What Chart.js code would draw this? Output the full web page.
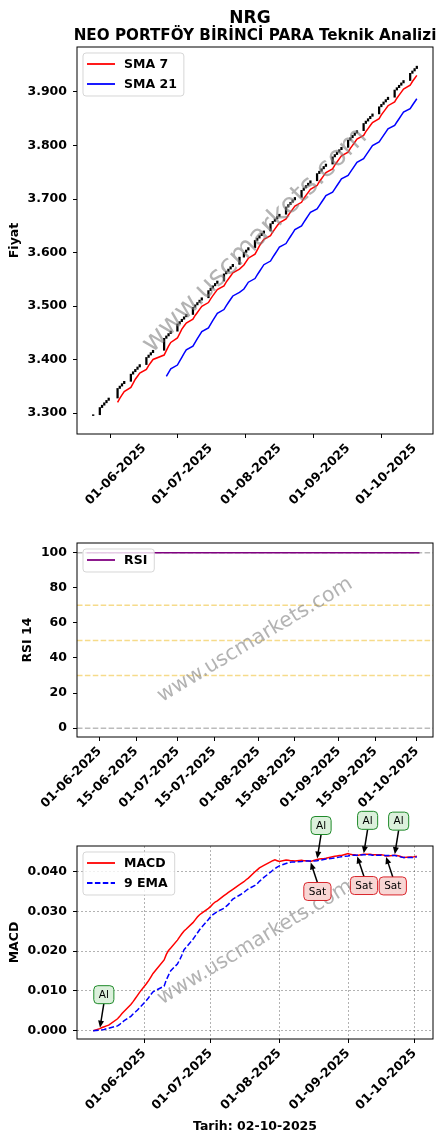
<!DOCTYPE html>
<html>
<head>
<meta charset="utf-8">
<script src="https://cdn.jsdelivr.net/npm/chart.js@4.4.1/dist/chart.umd.min.js"></script>
<style>
  html, body { margin: 0; padding: 0; background: #fff; }
  #page { position: relative; width: 446px; height: 1142px; overflow: hidden; background: #fff; }
  canvas { position: absolute; left: 0; }
</style>
</head>
<body>
<div id="page">
  <canvas id="priceChart" width="446" height="510" style="top:0px"></canvas>
  <canvas id="rsiChart" width="446" height="300" style="top:520px"></canvas>
  <canvas id="macdChart" width="446" height="352" style="top:790px"></canvas>
</div>
<script>
// NRG - NEO PORTFÖY BİRİNCİ PARA, işlem günleri
const symbol = 'NRG';
const fundName = 'NEO PORTFÖY BİRİNCİ PARA';
const reportDate = '02-10-2025';

const dates = [
  '2025-05-09','2025-05-12','2025-05-13','2025-05-14','2025-05-15','2025-05-16',
  '2025-05-20','2025-05-21','2025-05-22','2025-05-23',
  '2025-05-26','2025-05-27','2025-05-28','2025-05-29','2025-05-30',
  '2025-06-02','2025-06-03','2025-06-04','2025-06-05',
  '2025-06-10','2025-06-11','2025-06-12','2025-06-13',
  '2025-06-16','2025-06-17','2025-06-18','2025-06-19','2025-06-20',
  '2025-06-23','2025-06-24','2025-06-25','2025-06-26','2025-06-27',
  '2025-06-30','2025-07-01','2025-07-02','2025-07-03','2025-07-04',
  '2025-07-07','2025-07-08','2025-07-09','2025-07-10','2025-07-11',
  '2025-07-14','2025-07-16','2025-07-17','2025-07-18',
  '2025-07-21','2025-07-22','2025-07-23','2025-07-24','2025-07-25',
  '2025-07-28','2025-07-29','2025-07-30','2025-07-31','2025-08-01',
  '2025-08-04','2025-08-05','2025-08-06','2025-08-07','2025-08-08',
  '2025-08-11','2025-08-12','2025-08-13','2025-08-14','2025-08-15',
  '2025-08-18','2025-08-19','2025-08-20','2025-08-21','2025-08-22',
  '2025-08-25','2025-08-26','2025-08-27','2025-08-28','2025-08-29',
  '2025-09-01','2025-09-02','2025-09-03','2025-09-04','2025-09-05',
  '2025-09-08','2025-09-09','2025-09-10','2025-09-11','2025-09-12',
  '2025-09-15','2025-09-16','2025-09-17','2025-09-18','2025-09-19',
  '2025-09-22','2025-09-23','2025-09-24','2025-09-25','2025-09-26',
  '2025-09-29','2025-09-30','2025-10-01','2025-10-02'
];

// kapanış fiyatları (açılış = önceki kapanış)
const firstOpen = 3.2955;
const closes = [
  3.2970, 3.3104, 3.3148, 3.3193, 3.3238, 3.3282,
  3.3461, 3.3505, 3.3550, 3.3594,
  3.3728, 3.3773, 3.3817, 3.3862, 3.3907,
  3.4040, 3.4085, 3.4130, 3.4174,
  3.4397, 3.4442, 3.4486, 3.4531,
  3.4665, 3.4709, 3.4754, 3.4799, 3.4843,
  3.4977, 3.5022, 3.5066, 3.5111, 3.5155,
  3.5289, 3.5334, 3.5378, 3.5423, 3.5468,
  3.5601, 3.5646, 3.5691, 3.5735, 3.5780,
  3.5914, 3.6003, 3.6047, 3.6092,
  3.6226, 3.6270, 3.6315, 3.6360, 3.6404,
  3.6538, 3.6583, 3.6627, 3.6672, 3.6716,
  3.6850, 3.6895, 3.6939, 3.6984, 3.7029,
  3.7162, 3.7207, 3.7252, 3.7296, 3.7341,
  3.7475, 3.7519, 3.7564, 3.7608, 3.7653,
  3.7787, 3.7831, 3.7876, 3.7921, 3.7965,
  3.8099, 3.8144, 3.8188, 3.8233, 3.8277,
  3.8411, 3.8456, 3.8500, 3.8545, 3.8590,
  3.8723, 3.8768, 3.8813, 3.8857, 3.8902,
  3.9036, 3.9080, 3.9125, 3.9169, 3.9214,
  3.9348, 3.9392, 3.9437, 3.9482
];

const sma7 = [
  null, null, null, null, null, null,
  3.3199, 3.3276, 3.3340, 3.3403, 3.3480, 3.3556, 3.3633, 3.3690, 3.3747,
  3.3817, 3.3888, 3.3945, 3.4002, 3.4085, 3.4168, 3.4251, 3.4321,
  3.4404, 3.4486, 3.4569, 3.4627, 3.4684, 3.4754, 3.4824, 3.4881, 3.4939, 3.4996,
  3.5066, 3.5136, 3.5194, 3.5251, 3.5308, 3.5378, 3.5449, 3.5506, 3.5563, 3.5621,
  3.5691, 3.5767, 3.5831, 3.5894, 3.5971, 3.6047, 3.6124, 3.6188, 3.6245,
  3.6315, 3.6385, 3.6442, 3.6500, 3.6557, 3.6627, 3.6697, 3.6755, 3.6812, 3.6869,
  3.6939, 3.7010, 3.7067, 3.7124, 3.7182, 3.7252, 3.7322, 3.7379, 3.7436, 3.7494,
  3.7564, 3.7634, 3.7691, 3.7749, 3.7806, 3.7876, 3.7946, 3.8003, 3.8061, 3.8118,
  3.8188, 3.8258, 3.8316, 3.8373, 3.8430, 3.8500, 3.8571, 3.8628, 3.8685, 3.8743,
  3.8813, 3.8883, 3.8940, 3.8997, 3.9055, 3.9125, 3.9195, 3.9252, 3.9310
];

const sma21 = [
  null, null, null, null, null, null, null, null, null, null,
  null, null, null, null, null, null, null, null, null, null,
  3.3686, 3.3758, 3.3826, 3.3898, 3.3970, 3.4043, 3.4115, 3.4181, 3.4251, 3.4321,
  3.4391, 3.4457, 3.4523, 3.4593, 3.4663, 3.4733, 3.4799, 3.4864, 3.4935, 3.5005,
  3.5066, 3.5128, 3.5189, 3.5255, 3.5319, 3.5383, 3.5446, 3.5514, 3.5582, 3.5646,
  3.5710, 3.5773, 3.5841, 3.5909, 3.5973, 3.6037, 3.6100, 3.6168, 3.6236, 3.6300,
  3.6364, 3.6428, 3.6496, 3.6563, 3.6627, 3.6689, 3.6750, 3.6816, 3.6878, 3.6939,
  3.7001, 3.7063, 3.7128, 3.7190, 3.7252, 3.7313, 3.7375, 3.7441, 3.7502, 3.7564,
  3.7625, 3.7687, 3.7753, 3.7814, 3.7876, 3.7938, 3.7999, 3.8065, 3.8127, 3.8188,
  3.8250, 3.8311, 3.8377, 3.8439, 3.8500, 3.8562, 3.8624, 3.8689, 3.8751, 3.8813,
  3.8874
];

const rsi14 = [
  null, null, null, null, null, null, null, null, null, null, null,
  100, 100, 100, 100, 100, 100, 100, 100, 100, 100,
  100, 100, 100, 100, 100, 100, 100, 100, 100, 100,
  100, 100, 100, 100, 100, 100, 100, 100, 100, 100,
  100, 100, 100, 100, 100, 100, 100, 100, 100, 100,
  100, 100, 100, 100, 100, 100, 100, 100, 100, 100,
  100, 100, 100, 100, 100, 100, 100, 100, 100, 100,
  100, 100, 100, 100, 100, 100, 100, 100, 100, 100,
  100, 100, 100, 100, 100, 100, 100, 100, 100, 100,
  100, 100, 100, 100, 100, 100, 100, 100, 100, 100
];

const macd = [
  0.0000, 0.0005, 0.0008, 0.0010, 0.0012, 0.0014,
  0.0030, 0.0036, 0.0043, 0.0049,
  0.0066, 0.0073, 0.0081, 0.0089, 0.0097,
  0.0118, 0.0126, 0.0135, 0.0144,
  0.0178, 0.0192, 0.0202, 0.0208,
  0.0228, 0.0236, 0.0244, 0.0251, 0.0256,
  0.0272, 0.0279, 0.0286, 0.0292, 0.0296,
  0.0308, 0.0313, 0.0319, 0.0324, 0.0327,
  0.0340, 0.0344, 0.0348, 0.0352, 0.0356,
  0.0368, 0.0375, 0.0380, 0.0384,
  0.0400, 0.0405, 0.0410, 0.0413, 0.0416,
  0.0425, 0.0428, 0.0430, 0.0428, 0.0426,
  0.0430, 0.0429, 0.0428, 0.0428, 0.0427,
  0.0429, 0.0428, 0.0428, 0.0428, 0.0426,
  0.0431, 0.0432, 0.0433, 0.0433, 0.0434,
  0.0438, 0.0439, 0.0440, 0.0441, 0.0441,
  0.0446, 0.0444, 0.0443, 0.0443, 0.0441,
  0.0444, 0.0444, 0.0444, 0.0444, 0.0443,
  0.0443, 0.0443, 0.0442, 0.0440, 0.0440,
  0.0442, 0.0441, 0.0440, 0.0438, 0.0436,
  0.0437, 0.0437, 0.0438, 0.0439
];

const macdSignal = [
  0.0000, 0.0001, 0.0002, 0.0003, 0.0005, 0.0006,
  0.0012, 0.0016, 0.0021, 0.0025,
  0.0036, 0.0042, 0.0047, 0.0052, 0.0058,
  0.0076, 0.0083, 0.0091, 0.0098,
  0.0112, 0.0128, 0.0140, 0.0151,
  0.0168, 0.0178, 0.0190, 0.0204, 0.0210,
  0.0230, 0.0238, 0.0246, 0.0254, 0.0261,
  0.0280, 0.0287, 0.0292, 0.0296, 0.0300,
  0.0308, 0.0313, 0.0318, 0.0325, 0.0331,
  0.0341, 0.0348, 0.0353, 0.0357,
  0.0366, 0.0370, 0.0376, 0.0381, 0.0386,
  0.0399, 0.0404, 0.0408, 0.0412, 0.0415,
  0.0421, 0.0423, 0.0424, 0.0425, 0.0425,
  0.0426, 0.0427, 0.0427, 0.0427, 0.0427,
  0.0428, 0.0429, 0.0430, 0.0431, 0.0432,
  0.0434, 0.0435, 0.0436, 0.0437, 0.0438,
  0.0440, 0.0441, 0.0442, 0.0442, 0.0442,
  0.0443, 0.0443, 0.0443, 0.0443, 0.0442,
  0.0442, 0.0442, 0.0441, 0.0441, 0.0441,
  0.0441, 0.0440, 0.0439, 0.0437, 0.0436,
  0.0436, 0.0436, 0.0437, 0.0437
];

// al / sat sinyalleri (MACD kesişimleri)
const signalDates = ['2025-05-12', '2025-08-15', '2025-08-18', '2025-09-05', '2025-09-08', '2025-09-18', '2025-09-22'];
const signalTypes = ['Al', 'Sat', 'Al', 'Sat', 'Al', 'Sat', 'Al'];

const priceTicks = [3.3, 3.4, 3.5, 3.6, 3.7, 3.8, 3.9];
const rsiTicks = [0, 20, 40, 60, 80, 100];
const rsiLevels = [0, 30, 50, 70, 100];
const macdTicks = [0, 0.01, 0.02, 0.03, 0.04];
const monthLabels = ['01-06-2025', '01-07-2025', '01-08-2025', '01-09-2025', '01-10-2025'];
const halfMonthLabels = ['01-06-2025', '15-06-2025', '01-07-2025', '15-07-2025', '01-08-2025',
  '15-08-2025', '01-09-2025', '15-09-2025', '01-10-2025'];

// tarih -> gün numarası (doğrusal x ekseni için)
const t0 = Date.parse(dates[0]);
const dayOf = s => (Date.parse(s) - t0) / 864e5;
const dayOfLabel = s => { const [d, m, y] = s.split('-'); return dayOf(y + '-' + m + '-' + d); };
const series = vals => vals.map((v, i) => ({ x: dayOf(dates[i]), y: v })).filter(p => p.y !== null);
const candles = closes.map((c, i) => ({ x: dayOf(dates[i]), y: [i ? closes[i - 1] : firstOpen, c] }));

const FONT = "'DejaVu Sans', 'Liberation Sans', sans-serif";
Chart.defaults.font.family = FONT;
Chart.defaults.font.size = 12.5;
Chart.defaults.font.weight = 'bold';
Chart.defaults.color = '#000';

function axes(o) {
  return {
    x: {
      type: 'linear', min: o.xMin, max: o.xMax, offset: false,
      afterFit: s => { s.height = o.xHeight; },
      afterBuildTicks: s => { s.ticks = o.xLabels.map(l => ({ value: dayOfLabel(l) })); },
      ticks: { autoSkip: false, minRotation: 45, maxRotation: 45, padding: 3,
        callback: (v, i) => o.xLabels[i] },
      grid: { drawOnChartArea: !!o.grid, color: 'rgba(0,0,0,0.38)', lineWidth: 0.8,
        tickColor: '#000', tickLength: 4, tickWidth: 1 },
      border: { display: false, dash: [2, 2] },
      title: o.xTitle ? { display: true, text: o.xTitle, padding: { top: 0, bottom: 7.5 } } : { display: false }
    },
    y: {
      min: o.yMin, max: o.yMax,
      afterFit: s => { s.width = 77; },
      afterBuildTicks: s => { s.ticks = o.yTicks.map(v => ({ value: v })); },
      ticks: { autoSkip: false, padding: 6, callback: v => o.yFmt(v) },
      grid: { drawOnChartArea: !!o.grid, color: 'rgba(0,0,0,0.38)', lineWidth: 0.8,
        tickColor: '#000', tickLength: 4, tickWidth: 1 },
      border: { display: false, dash: [2, 2] },
      title: { display: true, text: o.yTitle, padding: { top: o.yTitlePad, bottom: 0 } }
    }
  };
}

function baseOptions(padTop, scales) {
  return {
    responsive: false, animation: false, events: [],
    layout: { padding: { top: padTop, right: 13, left: 0, bottom: 0 } },
    plugins: { legend: { display: false }, tooltip: { enabled: false } },
    scales: scales
  };
}

// çerçeve (dört kenar)
const framePlugin = {
  id: 'frame',
  afterDraw(chart) {
    const { ctx, chartArea: a } = chart;
    ctx.save();
    ctx.strokeStyle = '#000';
    ctx.lineWidth = 1;
    ctx.strokeRect(a.left, a.top, a.right - a.left, a.bottom - a.top);
    ctx.restore();
  }
};

function watermark(size, angle) {
  return {
    id: 'watermark',
    afterDatasetsDraw(chart) {
      const { ctx, chartArea: a } = chart;
      ctx.save();
      ctx.translate((a.left + a.right) / 2, (a.top + a.bottom) / 2);
      ctx.rotate(-angle * Math.PI / 180);
      ctx.font = 'normal ' + size + 'px ' + FONT;
      ctx.fillStyle = 'rgba(128,128,128,0.6)';
      ctx.textAlign = 'center';
      ctx.textBaseline = 'middle';
      ctx.fillText('www.uscmarkets.com', 0, 0);
      ctx.restore();
    }
  };
}

// matplotlib tarzı lejant, grafik alanının sol üst köşesinde
const legendPlugin = {
  id: 'boxLegend',
  afterDraw(chart) {
    const { ctx, chartArea: a } = chart;
    const items = chart.data.datasets.filter(d => d.label);
    ctx.save();
    ctx.font = 'bold 12.5px ' + FONT;
    const w = 41 + Math.max(...items.map(d => ctx.measureText(d.label).width)) + 7;
    const h = 23 + (items.length - 1) * 20;
    const x = a.left + 6, y = a.top + 6;
    ctx.beginPath();
    ctx.roundRect(x, y, w, h, 3);
    ctx.fillStyle = 'rgba(255,255,255,0.8)';
    ctx.fill();
    ctx.strokeStyle = 'rgba(204,204,204,0.8)';
    ctx.lineWidth = 1;
    ctx.stroke();
    items.forEach((d, k) => {
      const yy = y + 11 + 20 * k;
      ctx.beginPath();
      ctx.setLineDash(d.borderDash || []);
      ctx.strokeStyle = d.borderColor;
      ctx.lineWidth = 1.8;
      ctx.moveTo(x + 4, yy);
      ctx.lineTo(x + 32, yy);
      ctx.stroke();
      ctx.setLineDash([]);
      ctx.fillStyle = '#000';
      ctx.textBaseline = 'middle';
      ctx.textAlign = 'left';
      ctx.fillText(d.label, x + 41, yy + 1);
    });
    ctx.restore();
  }
};

const titlePlugin = {
  id: 'titles',
  afterDraw(chart) {
    const { ctx } = chart;
    ctx.save();
    ctx.fillStyle = '#000';
    ctx.textAlign = 'center';
    ctx.textBaseline = 'alphabetic';
    ctx.font = 'bold 17px ' + FONT;
    ctx.fillText(symbol, 250, 22.5);
    ctx.font = 'bold 15.2px ' + FONT;
    ctx.fillText(fundName + ' Teknik Analizi', 255, 39.5);
    ctx.restore();
  }
};

const levelsPlugin = {
  id: 'levels',
  beforeDatasetsDraw(chart) {
    const { ctx, chartArea: a, scales } = chart;
    ctx.save();
    ctx.lineWidth = 1.5;
    ctx.setLineDash([5.5, 2.4]);
    rsiLevels.forEach(v => {
      const y = scales.y.getPixelForValue(v);
      ctx.strokeStyle = (v === 0 || v === 100) ? 'rgba(170,170,170,0.8)' : 'rgba(240,195,60,0.6)';
      ctx.beginPath();
      ctx.moveTo(a.left, y);
      ctx.lineTo(a.right, y);
      ctx.stroke();
    });
    ctx.restore();
  }
};

const signalPlugin = {
  id: 'signals',
  afterDatasetsDraw(chart) {
    const { ctx, scales } = chart;
    ctx.save();
    ctx.font = 'normal 10.5px ' + FONT;
    signalDates.forEach((d, k) => {
      const i = dates.indexOf(d);
      const buy = signalTypes[k] === 'Al';
      const tx = scales.x.getPixelForValue(dayOf(d));
      const ty = scales.y.getPixelForValue(macd[i]);
      const bx = tx + (buy ? 4 : 7);
      const by = ty + (buy ? -34 : 30);
      const bw = ctx.measureText(signalTypes[k]).width + 10, bh = 18;
      // ok
      const sx = bx, sy = buy ? by + bh / 2 : by - bh / 2;
      const ang = Math.atan2(ty - sy, tx - sx);
      const ex = tx - Math.cos(ang) * 1, ey = ty - Math.sin(ang) * 1;
      ctx.strokeStyle = '#000';
      ctx.fillStyle = '#000';
      ctx.lineWidth = 1.5;
      ctx.beginPath();
      ctx.moveTo(sx, sy);
      ctx.lineTo(ex - Math.cos(ang) * 5, ey - Math.sin(ang) * 5);
      ctx.stroke();
      ctx.beginPath();
      ctx.moveTo(ex, ey);
      ctx.lineTo(ex - Math.cos(ang) * 7 + Math.sin(ang) * 3, ey - Math.sin(ang) * 7 - Math.cos(ang) * 3);
      ctx.lineTo(ex - Math.cos(ang) * 7 - Math.sin(ang) * 3, ey - Math.sin(ang) * 7 + Math.cos(ang) * 3);
      ctx.closePath();
      ctx.fill();
      // kutu
      ctx.beginPath();
      ctx.roundRect(bx - bw / 2, by - bh / 2, bw, bh, 4);
      ctx.fillStyle = buy ? '#dcf0dc' : '#f8d6d4';
      ctx.fill();
      ctx.lineWidth = 1;
      ctx.strokeStyle = buy ? '#1f8a2a' : '#d9262c';
      ctx.stroke();
      ctx.fillStyle = '#000';
      ctx.textAlign = 'center';
      ctx.textBaseline = 'middle';
      ctx.fillText(signalTypes[k], bx, by + 0.5);
    });
    ctx.restore();
  }
};

// 1) Fiyat + SMA
new Chart(document.getElementById('priceChart'), {
  type: 'bar',
  data: {
    datasets: [
      { type: 'bar', data: candles, backgroundColor: '#000', borderWidth: 0, barThickness: 1.6, order: 2 },
      { type: 'line', label: 'SMA 7', data: series(sma7), borderColor: 'red', borderWidth: 1.5, pointRadius: 0, order: 1 },
      { type: 'line', label: 'SMA 21', data: series(sma21), borderColor: 'blue', borderWidth: 1.5, pointRadius: 0, order: 0 }
    ]
  },
  options: baseOptions(47, axes({
    xMin: -7.3, xMax: 153.3, xHeight: 76, xLabels: monthLabels,
    yMin: 3.261, yMax: 3.984, yTicks: priceTicks, yFmt: v => v.toFixed(3),
    yTitle: 'Fiyat', yTitlePad: 7.5
  })),
  plugins: [framePlugin, watermark(28, 45), legendPlugin, titlePlugin]
});

// 2) RSI
new Chart(document.getElementById('rsiChart'), {
  type: 'line',
  data: {
    datasets: [
      { label: 'RSI', data: series(rsi14), borderColor: '#800080', borderWidth: 1.5, pointRadius: 0 }
    ]
  },
  options: baseOptions(23, axes({
    xMin: 14.3, xMax: 151.2, xHeight: 83, xLabels: halfMonthLabels,
    yMin: -5, yMax: 105.5, yTicks: rsiTicks, yFmt: v => String(v),
    yTitle: 'RSI 14', yTitlePad: 20.5
  })),
  plugins: [levelsPlugin, framePlugin, watermark(20.5, 31), legendPlugin]
});

// 3) MACD
new Chart(document.getElementById('macdChart'), {
  type: 'line',
  data: {
    datasets: [
      { label: 'MACD', data: series(macd), borderColor: 'red', borderWidth: 1.5, pointRadius: 0, order: 1 },
      { label: '9 EMA', data: series(macdSignal), borderColor: 'blue', borderWidth: 1.5, borderDash: [5.5, 2.4], pointRadius: 0, order: 0 }
    ]
  },
  options: baseOptions(56, axes({
    xMin: -7.3, xMax: 153.3, xHeight: 103, xLabels: monthLabels, grid: true,
    xTitle: 'Tarih: ' + reportDate,
    yMin: -0.0021, yMax: 0.0465, yTicks: macdTicks, yFmt: v => v.toFixed(3),
    yTitle: 'MACD', yTitlePad: 7.5
  })),
  plugins: [framePlugin, watermark(20.5, 31), signalPlugin, legendPlugin]
});
</script>
</body>
</html>
